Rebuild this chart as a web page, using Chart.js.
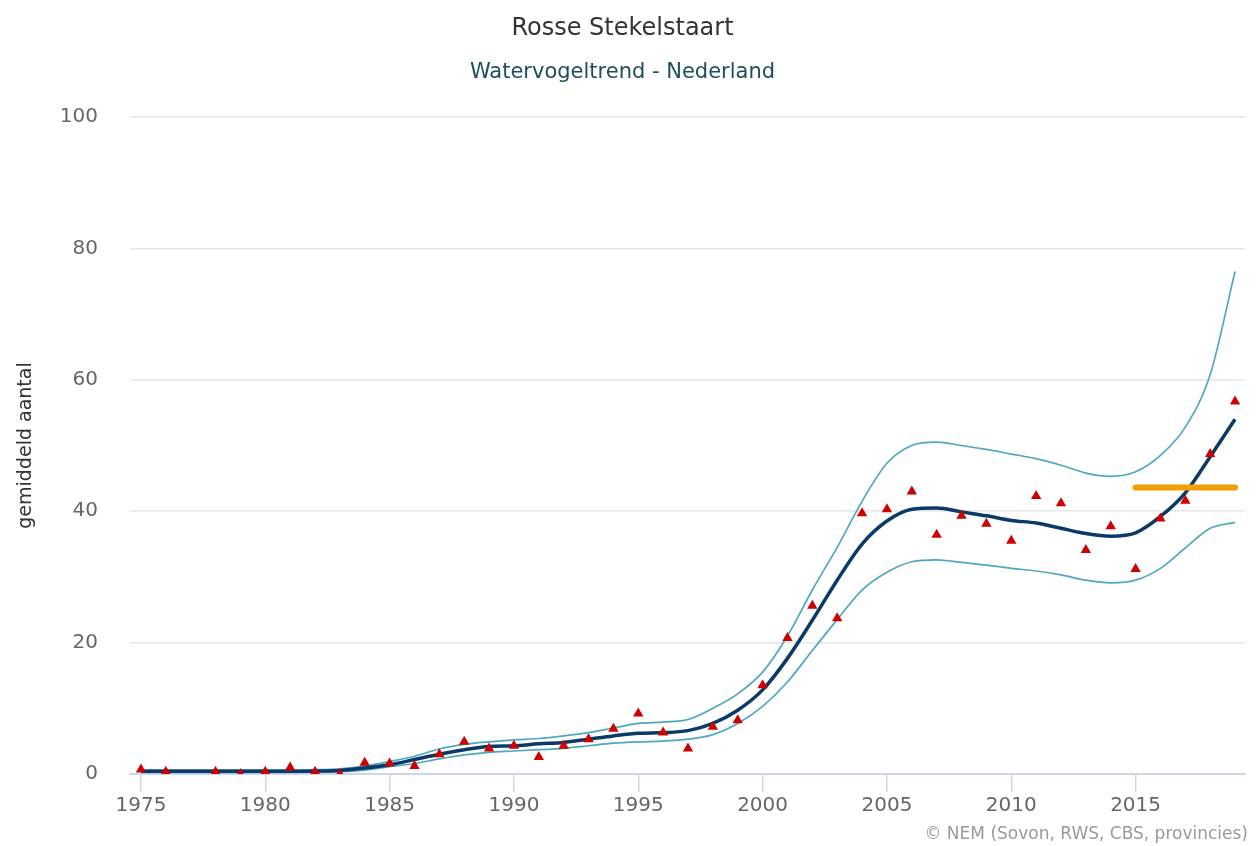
<!DOCTYPE html>
<html>
<head>
<meta charset="utf-8">
<title>Rosse Stekelstaart</title>
<script src="https://cdn.jsdelivr.net/npm/chart.js@4/dist/chart.umd.min.js"></script>
<style>
    body { margin: 0; background: #ffffff; }
    #wrap { width: 1260px; height: 846px; }
</style>
</head>
<body>
<div id="wrap"><canvas id="chart" width="1260" height="846"></canvas></div>
<script>
// years 1975 - 2019
const YEARS = [1975, 1976, 1977, 1978, 1979, 1980, 1981, 1982, 1983, 1984,
    1985, 1986, 1987, 1988, 1989, 1990, 1991, 1992, 1993, 1994,
    1995, 1996, 1997, 1998, 1999, 2000, 2001, 2002, 2003, 2004,
    2005, 2006, 2007, 2008, 2009, 2010, 2011, 2012, 2013, 2014,
    2015, 2016, 2017, 2018, 2019];

// smoothed trend (dark line)
const TREND = [0.4, 0.4, 0.4, 0.4, 0.4, 0.4, 0.4, 0.45, 0.55, 0.9,
    1.4, 2.2, 3.0, 3.7, 4.2, 4.3, 4.6, 4.8, 5.3, 5.8,
    6.2, 6.3, 6.6, 7.7, 9.7, 12.8, 17.6, 23.4, 29.5, 35.0,
    38.5, 40.3, 40.5, 39.9, 39.3, 38.6, 38.2, 37.4, 36.6, 36.2,
    36.7, 39.2, 42.8, 48.3, 54.0];

// confidence band
const UPPER = [0.6, 0.6, 0.6, 0.6, 0.6, 0.6, 0.6, 0.65, 0.8, 1.2,
    1.9, 2.7, 3.8, 4.5, 4.9, 5.2, 5.4, 5.8, 6.3, 7.0,
    7.7, 7.9, 8.3, 10.0, 12.2, 15.5, 21.0, 28.0, 34.5, 41.5,
    47.3, 50.0, 50.5, 50.0, 49.4, 48.7, 48.0, 47.0, 45.8, 45.3,
    46.0, 48.5, 52.8, 60.8, 76.5];
const LOWER = [0.25, 0.25, 0.25, 0.25, 0.25, 0.25, 0.25, 0.3, 0.35, 0.6,
    1.1, 1.6, 2.3, 2.9, 3.3, 3.5, 3.7, 3.9, 4.3, 4.7,
    4.9, 5.0, 5.3, 6.0, 7.7, 10.3, 14.0, 18.8, 23.5, 28.0,
    30.7, 32.3, 32.6, 32.2, 31.8, 31.3, 30.9, 30.3, 29.5, 29.1,
    29.5, 31.3, 34.4, 37.4, 38.3];

// yearly counts (triangles), 1977 missing
const OBSERVED = [0.7, 0.35, null, 0.35, 0, 0.35, 1.0, 0.35, 0, 1.7,
    1.6, 1.2, 3.0, 4.9, 3.9, 4.3, 2.6, 4.3, 5.3, 6.9,
    9.2, 6.3, 3.9, 7.2, 8.2, 13.5, 20.7, 25.6, 23.7, 39.7,
    40.3, 43.0, 36.4, 39.3, 38.1, 35.5, 42.3, 41.2, 34.1, 37.7,
    31.2, 38.9, 41.6, 48.7, 56.7];

// mean of the last 5 years (orange bar)
const REF_YEARS = [2015, 2019];
const REF_VALUE = [43.6, 43.6];

const X_TICKS = [1975, 1980, 1985, 1990, 1995, 2000, 2005, 2010, 2015];
const Y_TICKS = [0, 20, 40, 60, 80, 100];

const FONT = "'DejaVu Sans', 'Liberation Sans', sans-serif";
const CREDITS = "\u00a9 NEM (Sovon, RWS, CBS, provincies)";


function toPoints(values) {
    // pairs every value with its year for the linear x axis
    return YEARS.map((year, i) => ({ x: year, y: values[i] }));
}


// draws the credits line in the bottom right corner
const creditsPlugin = {
    id: "credits",
    afterDraw(chart) {
        const ctx = chart.ctx;
        ctx.save();
        ctx.font = "17px " + FONT;
        ctx.fillStyle = "#999999";
        ctx.textAlign = "right";
        ctx.textBaseline = "middle";
        ctx.fillText(CREDITS, 1248, 835);
        ctx.restore();
    }
};


function initChart() {
    Chart.defaults.font.family = FONT;

    const lineStyle = {
        pointRadius: 0,
        cubicInterpolationMode: "monotone",
        fill: false
    };

    new Chart(document.getElementById("chart"), {
        type: "line",
        data: {
            datasets: [
                Object.assign({
                    label: "bovengrens",
                    data: toPoints(UPPER),
                    borderColor: "#4fa7c1",
                    borderWidth: 1.7,
                    order: 5
                }, lineStyle),
                Object.assign({
                    label: "ondergrens",
                    data: toPoints(LOWER),
                    borderColor: "#4fa7c1",
                    borderWidth: 1.7,
                    order: 4
                }, lineStyle),
                Object.assign({
                    label: "trend",
                    data: toPoints(TREND),
                    borderColor: "#0b3a68",
                    borderWidth: 3.5,
                    order: 3
                }, lineStyle),
                {
                    label: "gemiddelde laatste 5 jaar",
                    data: REF_YEARS.map((year, i) => ({ x: year, y: REF_VALUE[i] })),
                    borderColor: "#f29f05",
                    borderWidth: 6,
                    borderCapStyle: "round",
                    pointRadius: 0,
                    fill: false,
                    order: 2
                },
                {
                    label: "telling",
                    data: toPoints(OBSERVED),
                    showLine: false,
                    pointStyle: "triangle",
                    pointRadius: 6,
                    pointBackgroundColor: "#d00000",
                    pointBorderColor: "#d00000",
                    pointBorderWidth: 0,
                    order: 1
                }
            ]
        },
        options: {
            responsive: false,
            animation: false,
            layout: {
                padding: { left: 0, right: 15, top: 0, bottom: 0 }
            },
            plugins: {
                legend: { display: false },
                tooltip: { enabled: false },
                title: {
                    display: true,
                    text: "Rosse Stekelstaart",
                    color: "#333333",
                    font: { size: 24, weight: "normal" },
                    padding: { top: 14, bottom: 0 }
                },
                subtitle: {
                    display: true,
                    text: "Watervogeltrend - Nederland",
                    color: "#1f4d5c",
                    font: { size: 21, weight: "normal" },
                    padding: { top: 17.6, bottom: 31.4 }
                }
            },
            scales: {
                x: {
                    type: "linear",
                    min: 1974.56,
                    max: 2019.4,
                    afterBuildTicks: (scale) => {
                        scale.ticks = X_TICKS.map(v => ({ value: v }));
                    },
                    afterFit: (scale) => { scale.height = 72; },
                    grid: {
                        drawOnChartArea: false,
                        drawTicks: true,
                        tickLength: 18,
                        color: "#ccd6eb",
                        lineWidth: 1.5
                    },
                    border: { color: "#ccd6eb", width: 2 },
                    ticks: {
                        color: "#666666",
                        font: { size: 20 },
                        padding: 2,
                        maxRotation: 0,
                        autoSkip: false,
                        callback: (value) => String(value)
                    }
                },
                y: {
                    min: 0,
                    max: 100,
                    afterBuildTicks: (scale) => {
                        scale.ticks = Y_TICKS.map(v => ({ value: v }));
                    },
                    afterFit: (scale) => { scale.width = 130; },
                    grid: {
                        color: "#e6e6e6",
                        lineWidth: 1.5,
                        drawTicks: false
                    },
                    border: { display: false },
                    ticks: {
                        color: "#666666",
                        font: { size: 20 },
                        padding: 32
                    },
                    title: {
                        display: true,
                        text: "gemiddeld aantal",
                        color: "#333333",
                        font: { size: 19, weight: "normal" },
                        padding: { top: 15, bottom: 0 }
                    }
                }
            }
        },
        plugins: [creditsPlugin]
    });
}

initChart();
</script>
</body>
</html>
